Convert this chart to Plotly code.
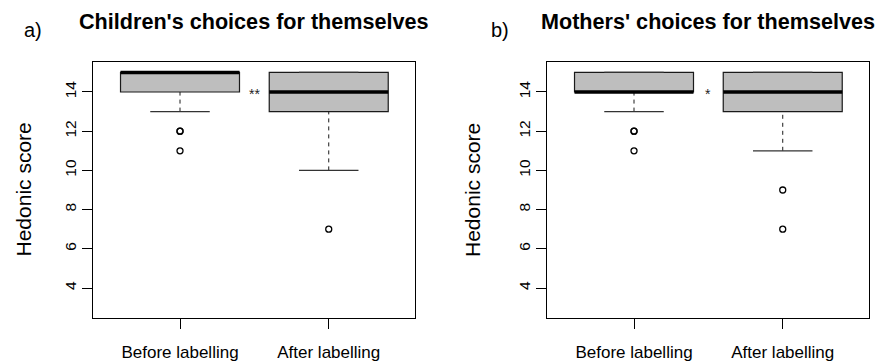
import plotly.graph_objects as go

# ---------------- data ----------------
categories = ["Before labelling", "After labelling"]

children_q1 = [14, 13]
children_median = [15, 14]
children_q3 = [15, 15]
children_lower = [13, 10]
children_upper = [15, 15]
children_outliers = [[12, 12, 11], [7]]

mothers_q1 = [14, 13]
mothers_median = [14, 14]
mothers_q3 = [15, 15]
mothers_lower = [13, 11]
mothers_upper = [15, 15]
mothers_outliers = [[12, 12, 11], [9, 7]]

titles = ["Children's choices for themselves", "Mothers' choices for themselves"]
panel_labels = ["a)", "b)"]
signif = ["**", "*"]
signif_y = 13.9
y_ticks = [4, 6, 8, 10, 12, 14]
y_title = "Hedonic score"

W, H = 877, 362
FONT = "Liberation Sans, Arial, Helvetica, sans-serif"
FILL = "#BEBEBE"
LINE = "#1a1a1a"

# plot frames in pixels (left, right)
frames = [(93, 415), (547, 869)]
top_px, bot_px = 62, 318
ytitle_px = [22.5, 472]
plabel_px = [33, 500]

fig = go.Figure()

panels = [
    (children_q1, children_median, children_q3, children_lower, children_upper, children_outliers),
    (mothers_q1, mothers_median, mothers_q3, mothers_lower, mothers_upper, mothers_outliers),
]

box_half = 0.4
cap_half = 0.2

for p, (q1, med, q3, lo, up, outl) in enumerate(panels):
    xa = "x" if p == 0 else "x2"
    ya = "y" if p == 0 else "y2"
    for i in range(len(categories)):
        xc = i + 1
        # whiskers (dashed)
        fig.add_shape(type="line", xref=xa, yref=ya, x0=xc, x1=xc, y0=lo[i], y1=q1[i],
                      line=dict(color=LINE, width=1, dash="4px,4px"))
        fig.add_shape(type="line", xref=xa, yref=ya, x0=xc, x1=xc, y0=q3[i], y1=up[i],
                      line=dict(color=LINE, width=1, dash="4px,4px"))
        # box
        fig.add_shape(type="rect", xref=xa, yref=ya, x0=xc - box_half, x1=xc + box_half,
                      y0=q1[i], y1=q3[i], fillcolor=FILL, line=dict(color=LINE, width=1.2))
        # caps
        fig.add_shape(type="line", xref=xa, yref=ya, x0=xc - cap_half, x1=xc + cap_half,
                      y0=lo[i], y1=lo[i], line=dict(color="#333333", width=1.2))
        fig.add_shape(type="line", xref=xa, yref=ya, x0=xc - cap_half, x1=xc + cap_half,
                      y0=up[i], y1=up[i], line=dict(color="#333333", width=1.2))
        # median
        fig.add_shape(type="line", xref=xa, yref=ya, x0=xc - box_half, x1=xc + box_half,
                      y0=med[i], y1=med[i], line=dict(color="black", width=3.5))
        # outliers
        fig.add_trace(go.Scatter(
            x=[xc] * len(outl[i]), y=outl[i], mode="markers", xaxis=xa, yaxis=ya,
            marker=dict(symbol="circle-open", size=6, color="black", line=dict(width=1.3)),
            showlegend=False, hoverinfo="y"))
    # significance label between boxes
    fig.add_annotation(x=1.5, y=signif_y, xref=xa, yref=ya, text=signif[p], showarrow=False,
                       xanchor="center", yanchor="middle",
                       font=dict(family=FONT, size=14, color="#222222"))

    l, r = frames[p]
    cx = (l + r) / 2
    # title
    fig.add_annotation(x=cx / W, y=1 - 22 / H, xref="paper", yref="paper", text="<b>%s</b>" % titles[p],
                       showarrow=False, xanchor="center", yanchor="middle",
                       font=dict(family=FONT, size=21.6, color="black"))
    # panel label
    fig.add_annotation(x=plabel_px[p] / W, y=1 - 30 / H, xref="paper", yref="paper", text=panel_labels[p],
                       showarrow=False, xanchor="center", yanchor="middle",
                       font=dict(family=FONT, size=20, color="black"))
    # y title
    fig.add_annotation(x=ytitle_px[p] / W, y=1 - 190 / H, xref="paper", yref="paper", text=y_title,
                       showarrow=False, xanchor="center", yanchor="middle", textangle=-90,
                       font=dict(family=FONT, size=21, color="black"))

xaxis_common = dict(range=[0.415, 2.58], tickvals=[1, 2], ticktext=categories, ticks="outside",
                    ticklen=10, tickwidth=1, tickcolor="black", showline=True, linecolor="black",
                    linewidth=1.2, mirror=True, showgrid=False, zeroline=False,
                    ticklabelstandoff=8,
                    tickfont=dict(family=FONT, size=17, color="black"), fixedrange=True)
yaxis_common = dict(range=[2.47, 15.53], tickvals=y_ticks, ticks="outside", ticklen=10, tickwidth=1,
                    tickcolor="black", showline=True, linecolor="black", linewidth=1.2, mirror=True,
                    showgrid=False, zeroline=False, tickangle=-90,
                    tickfont=dict(family=FONT, size=15.5, color="black"), fixedrange=True)

ydom = [1 - bot_px / H, 1 - top_px / H]
fig.update_layout(
    width=W, height=H, margin=dict(l=0, r=0, t=0, b=0),
    paper_bgcolor="white", plot_bgcolor="white", showlegend=False,
    xaxis=dict(domain=[frames[0][0] / W, frames[0][1] / W], anchor="y", **xaxis_common),
    yaxis=dict(domain=ydom, anchor="x", **yaxis_common),
    xaxis2=dict(domain=[frames[1][0] / W, frames[1][1] / W], anchor="y2", **xaxis_common),
    yaxis2=dict(domain=ydom, anchor="x2", **yaxis_common),
)

fig.write_html("out.html", config={"displayModeBar": False},
               post_script="document.body.style.margin='0px';document.body.style.overflow='hidden';")
